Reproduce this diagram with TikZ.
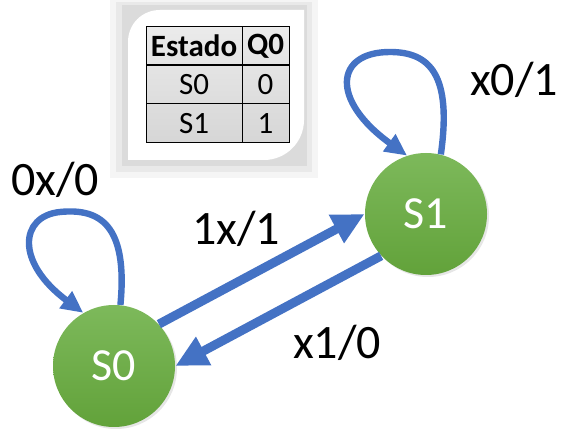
\documentclass[tikz,border=0pt]{standalone}
\usepackage{fontspec}
\setmainfont{Carlito}
\usetikzlibrary{shapes}
\usetikzlibrary{arrows.meta}
\usetikzlibrary{shadows}
\definecolor{azulfl}{HTML}{4472C4}
\definecolor{verdeA}{HTML}{7DB95B}
\definecolor{verdeB}{HTML}{62A23A}
\tikzset{
	est/.style = {circle, inner sep=0pt, minimum size=61pt, top color=verdeA,
		bottom color=verdeB, text=white, font=\fontsize{23}{27}\selectfont,
		drop shadow={opacity=0.2, shadow xshift=1pt, shadow yshift=-1pt}},% estado, circulo verde
	fl_g/.style = {draw=azulfl, line width=4.5pt,
		-{Triangle[length=16pt, width=15pt]}},% flecha gruesa entre estados
	fl_b/.style = {draw=azulfl, line width=3.2pt, line join=round,
		-{Triangle[length=11pt, width=10pt]}},% flecha del bucle
	etiq/.style = {inner sep=0pt, font=\fontsize{24}{28}\selectfont},% etiqueta entrada/salida
	celda/.style = {draw=black, line width=0.5pt, inner sep=0pt,
		minimum height=19.5pt, font=\fontsize{15.5}{18}\selectfont}% celda de la tabla
}
\begin{document}
\begin{tikzpicture}[x=0.5pt, y=-0.5pt]
	\useasboundingbox (0,0) rectangle (562,432);
	% marco de la tabla
	\fill[black, opacity=0.04] (110,0) rectangle (318,178);
	\fill[black, opacity=0.05] (116,2) rectangle (312,172);
	\fill[black, opacity=0.06] (122,5) rectangle (307,166);
	\fill[white] (128,160) -- (128,42) .. controls (128,24) and (142,10) .. (160,10)
		-- (304,10) -- (304,120) .. controls (304,142) and (286,160) .. (264,160) -- cycle;
	\shade[top color=gray!16, bottom color=gray!32] (146,27) rectangle (289,143);
	\node[celda, minimum width=48pt] (h1) at (194,46) {\bfseries Estado};
	\node[celda, minimum width=23.5pt] (h2) at (265.5,46) {\bfseries Q0};
	\node[celda, minimum width=48pt] (a1) at (194,84.5) {S0};
	\node[celda, minimum width=23.5pt] (a2) at (265.5,84.5) {0};
	\node[celda, minimum width=48pt] (b1) at (194,123.5) {S1};
	\node[celda, minimum width=23.5pt] (b2) at (265.5,123.5) {1};
	% estados
	\node[est] (s0) at (114,366) {S0};
	\node[est] (s1) at (426,214) {S1};
	% transiciones
	\draw[fl_b] (s0.84) .. controls (128,225) and (100,208) .. (60,212)
		.. controls (20,216) and (15,262) .. (s0.120);
	\draw[fl_b] (s1.76) .. controls (452,75) and (430,52) .. (390,52)
		.. controls (335,52) and (330,100) .. (s1.108);
	\draw[fl_g] (s0.43) -- (s1.180);
	\draw[fl_g] (s1.223) -- (s0.0);
	% etiquetas
	\node[etiq] (l0) at (55,180) {0x/0};
	\node[etiq] (l1) at (236,229) {1x/1};
	\node[etiq] (l2) at (337,343) {x1/0};
	\node[etiq] (l3) at (514,80) {x0/1};
\end{tikzpicture}
\end{document}
